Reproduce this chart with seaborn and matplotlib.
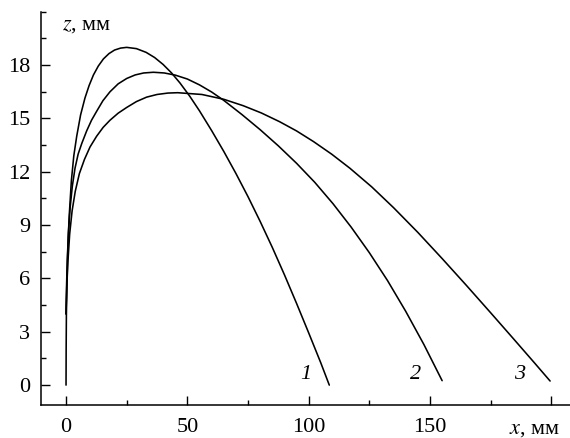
import pandas as pd
import matplotlib
matplotlib.use("Agg")
import matplotlib.pyplot as plt
import seaborn as sns

# ---------------------------
# Data (x, z in mm)
# ---------------------------
x1 = [0, 0.05, 0.15, 0.35, 0.6, 0.9, 1.3, 2.2, 3.2, 4.4, 6, 7.8, 9.5, 11.3, 13.3, 15.4,
      17.7, 20, 22.5, 25, 29, 33, 36.5, 40, 43.5, 47, 51, 55, 60, 65, 70, 75, 80, 85, 90,
      95, 100, 105, 108.5]
z1 = [0, 2, 4, 5.5, 7, 8.3, 9.5, 11.5, 12.9, 14.0, 15.2, 16.15, 16.85, 17.45, 17.95, 18.35,
      18.65, 18.85, 18.96, 19.0, 18.93, 18.72, 18.43, 18.04, 17.56, 16.99, 16.25, 15.43,
      14.32, 13.15, 11.91, 10.6, 9.21, 7.75, 6.21, 4.6, 2.94, 1.25, 0]

x2 = [0, 0.2, 0.5, 1, 1.7, 2.6, 3.7, 5, 6.5, 8.5, 10.5, 12.6, 15.2, 18.1, 21.5, 25, 28.5,
      32, 36, 40.5, 45, 50, 55, 60, 65, 72.5, 80, 87.5, 95, 102.5, 110, 117.5, 125, 132.5,
      140, 147.5, 155]
z2 = [4, 5.5, 7, 8.6, 10, 11.2, 12.2, 13.0, 13.6, 14.3, 14.9, 15.4, 16.0, 16.5, 16.95,
      17.25, 17.45, 17.56, 17.6, 17.56, 17.44, 17.22, 16.89, 16.49, 16.02, 15.22, 14.37,
      13.46, 12.48, 11.41, 10.21, 8.89, 7.45, 5.88, 4.15, 2.28, 0.25]

x3 = [0, 0.3, 0.8, 1.5, 2.5, 3.8, 5.5, 7.6, 9.9, 12.6, 15.3, 18.1, 21.5, 25, 29, 33.2,
      37.5, 42, 46, 56, 65, 73, 80.5, 88, 95, 102, 109.5, 117, 126, 135, 145, 155, 165,
      175, 184, 193, 199.5]
z3 = [4, 5.5, 7, 8.5, 9.8, 10.9, 11.9, 12.7, 13.4, 14.0, 14.5, 14.9, 15.3, 15.62, 15.95,
      16.2, 16.35, 16.43, 16.45, 16.35, 16.08, 15.72, 15.31, 14.82, 14.3, 13.7, 12.99,
      12.2, 11.15, 9.98, 8.59, 7.12, 5.61, 4.07, 2.67, 1.26, 0.23]

curve_labels = ["1", "2", "3"]
label_x = [99, 144, 187]
label_z = [0.6, 0.6, 0.6]

x_ticks = [0, 50, 100, 150, 200]
x_ticklabels = ["0", "50", "100", "150", ""]
z_ticks = [0, 3, 6, 9, 12, 15, 18]

curves = pd.concat([
    pd.DataFrame({"x": x1, "z": z1, "curve": "1"}),
    pd.DataFrame({"x": x2, "z": z2, "curve": "2"}),
    pd.DataFrame({"x": x3, "z": z3, "curve": "3"}),
], ignore_index=True)

# ---------------------------
# Style
# ---------------------------
sns.set_style("ticks")
plt.rcParams["font.family"] = ["Liberation Serif", "DejaVu Serif"]
plt.rcParams["mathtext.fontset"] = "stix"
plt.rcParams["axes.edgecolor"] = "black"
plt.rcParams["xtick.color"] = "black"
plt.rcParams["ytick.color"] = "black"
plt.rcParams["text.color"] = "black"

fig = plt.figure(figsize=(5.7, 4.38), dpi=100)
ax = fig.add_axes([0.072, 0.0753, 0.928, 0.8977])

for name, grp in curves.groupby("curve"):
    sns.lineplot(x="x", y="z", data=grp, ax=ax, sort=False, estimator=None,
                 color="black", linewidth=1.15, legend=False)

for lab, lx, lz in zip(curve_labels, label_x, label_z):
    ax.text(lx, lz, lab, fontsize=16, fontstyle="italic", ha="center", va="center")

ax.set_xlim(-10.3, 207.7)
ax.set_ylim(-1.12, 21)
ax.set_xticks(x_ticks)
ax.set_xticklabels(x_ticklabels)
ax.set_yticks(z_ticks)
ax.set_xticks([25, 75, 125, 175], minor=True)
ax.set_yticks([1.5, 4.5, 7.5, 10.5, 13.5, 16.5, 19.5, 21], minor=True)
ax.tick_params(which="major", direction="in", length=6.5, width=1.0, labelsize=16)
ax.tick_params(axis="x", which="major", pad=9)
ax.tick_params(axis="y", which="major", pad=8)
ax.tick_params(which="minor", direction="in", length=3.8, width=1.0)
ax.set_xlabel("")
ax.set_ylabel("")
sns.despine(ax=ax)
for s in ["left", "bottom"]:
    ax.spines[s].set_linewidth(1.1)

ax.text(-1.8, 20.25, "$z$, мм", fontsize=16, ha="left", va="center")
ax.annotate("$x$, мм", xy=(193, -0.062), xycoords=("data", "axes fraction"),
            fontsize=16, ha="center", va="center", annotation_clip=False)

plt.savefig("out.png", dpi=100)
plt.close()
